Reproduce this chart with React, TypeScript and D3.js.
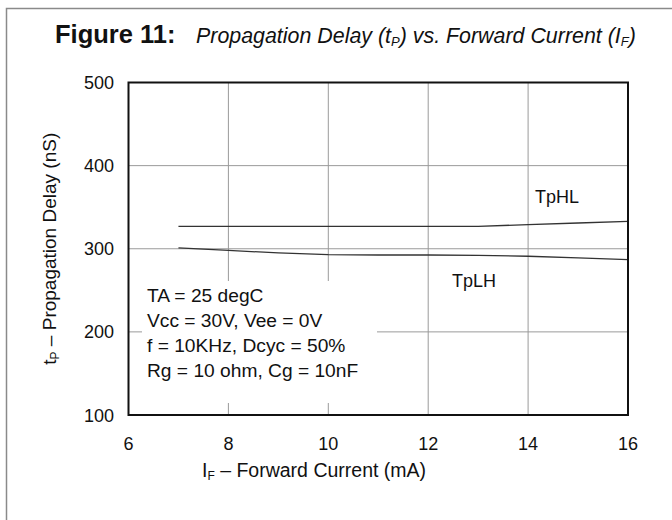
import React from "react";
import * as d3 from "d3";

// Forward current (mA) sample points and measured delays (nS)
const currents = [7, 8, 9, 10, 11, 12, 13, 14, 15, 16];
const tpHL = [327, 327, 327, 327, 327, 327, 327, 329, 331, 333];
const tpLH = [301, 298, 295, 293, 292.5, 292.5, 292, 291, 289, 287];

const xTicks = [6, 8, 10, 12, 14, 16];
const yTicks = [100, 200, 300, 400, 500];

const conditions = [
  "TA = 25 degC",
  "Vcc = 30V, Vee = 0V",
  "f = 10KHz, Dcyc = 50%",
  "Rg = 10 ohm, Cg = 10nF",
];

const W = 672;
const H = 520;
const plot = { left: 128.5, right: 628, top: 82.5, bottom: 415 };
const FONT = "'Liberation Sans', Arial, Helvetica, sans-serif";

export default function App() {
  const x = d3.scaleLinear().domain([6, 16]).range([plot.left, plot.right]);
  const y = d3.scaleLinear().domain([100, 500]).range([plot.bottom, plot.top]);

  const line = d3
    .line<number>()
    .x((_, i) => x(currents[i]))
    .y((d) => y(d));

  // Box that keeps the gridlines clear of the test-condition text
  const noteBox = { x0: 142, x1: 377, y0: 281, y1: 403 };

  return (
    <svg
      width={W}
      height={H}
      style={{ position: "absolute", left: 0, top: 0, background: "#fff" }}
      fontFamily={FONT}
    >
      {/* outer figure frame */}
      <path d={`M6.5,${H + 2} V8.5 H${W + 2}`} fill="none" stroke="#8a8a8a" strokeWidth={1.5} />

      {/* title */}
      <text x={55} y={43} fontSize={25.5} fontWeight="bold" fill="#111">
        Figure 11:
      </text>
      <text x={196} y={43} fontSize={21.4} fontStyle="italic" fill="#111">
        Propagation Delay (t<tspan fontSize={13} dy={3}>P</tspan>
        <tspan dy={-3}>) vs. Forward Current (I</tspan>
        <tspan fontSize={13} dy={3}>F</tspan>
        <tspan dy={-3}>)</tspan>
      </text>

      {/* gridlines */}
      <g stroke="#9a9a9a" strokeWidth={1}>
        {xTicks.slice(1, -1).map((t) => (
          <line key={"gx" + t} x1={x(t)} x2={x(t)} y1={plot.top} y2={plot.bottom} />
        ))}
        {yTicks.slice(1, -1).map((t) => (
          <line key={"gy" + t} x1={plot.left} x2={plot.right} y1={y(t)} y2={y(t)} />
        ))}
      </g>

      <rect
        x={noteBox.x0}
        y={noteBox.y0}
        width={noteBox.x1 - noteBox.x0}
        height={noteBox.y1 - noteBox.y0}
        fill="#fff"
      />

      {/* series */}
      <path d={line(tpHL) ?? ""} fill="none" stroke="#333" strokeWidth={1.3} />
      <path d={line(tpLH) ?? ""} fill="none" stroke="#333" strokeWidth={1.3} />

      {/* plot frame */}
      <rect
        x={plot.left}
        y={plot.top}
        width={plot.right - plot.left}
        height={plot.bottom - plot.top}
        fill="none"
        stroke="#111"
        strokeWidth={2}
      />

      {/* series labels */}
      <text x={535} y={203} fontSize={18} fill="#111">TpHL</text>
      <text x={452} y={287} fontSize={18} fill="#111">TpLH</text>

      {/* test conditions */}
      {conditions.map((c, i) => (
        <text key={c} x={147} y={302 + i * 25} fontSize={19.2} fill="#111">
          {c}
        </text>
      ))}

      {/* y tick labels */}
      {yTicks.map((t) => (
        <text key={"yl" + t} x={114} y={y(t) + 6.5} fontSize={18} textAnchor="end" fill="#111">
          {t}
        </text>
      ))}

      {/* x tick labels */}
      {xTicks.map((t) => (
        <text key={"xl" + t} x={x(t)} y={450} fontSize={18} textAnchor="middle" fill="#111">
          {t}
        </text>
      ))}

      {/* axis titles */}
      <text x={202} y={477} fontSize={19.5} fill="#111">
        I<tspan fontSize={12} dy={3}>F</tspan>
        <tspan dy={-3}> – Forward Current (mA)</tspan>
      </text>
      <text
        transform={`translate(56, ${(plot.top + plot.bottom) / 2}) rotate(-90)`}
        textAnchor="middle"
        fontSize={19}
        fill="#111"
      >
        t<tspan fontSize={12} dy={3}>P</tspan>
        <tspan dy={-3}> – Propagation Delay (nS)</tspan>
      </text>
    </svg>
  );
}
